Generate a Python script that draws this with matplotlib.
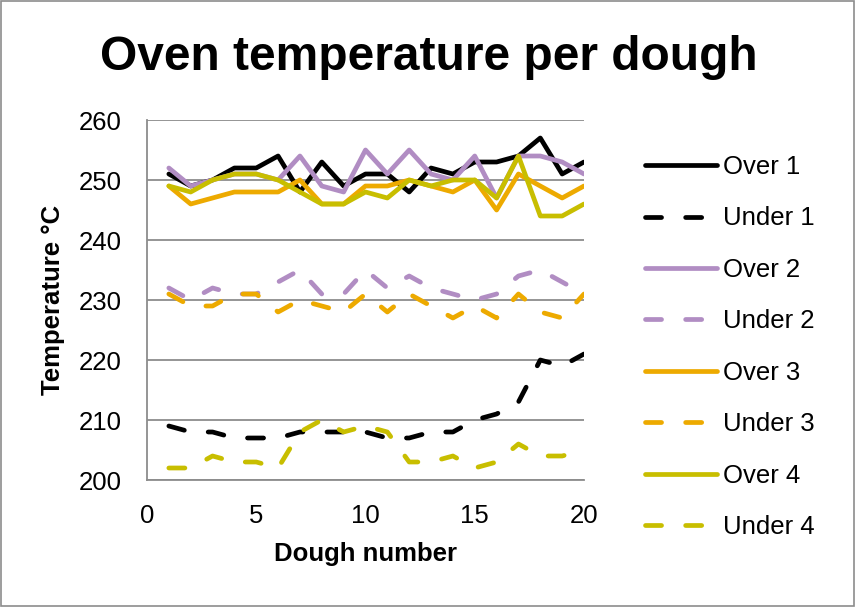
import matplotlib
matplotlib.use("Agg")
import matplotlib.pyplot as plt
from matplotlib.patches import Rectangle

plt.rcParams['font.family'] = ['Liberation Sans', 'DejaVu Sans']

dough = list(range(1, 21))

over_1 = [251, 249, 250, 252, 252, 254, 248, 253, 249, 251, 251, 248, 252, 251, 253, 253, 254, 257, 251, 253]
under_1 = [209, 208, 208, 207, 207, 207, 208, 208, 208, 208, 207, 207, 208, 208, 210, 211, 213, 220, 219, 221]
over_2 = [252, 249, 250, 251, 251, 250, 254, 249, 248, 255, 251, 255, 251, 250, 254, 247, 254, 254, 253, 251]
under_2 = [232, 230, 232, 231, 231, 233, 235, 231, 231, 235, 232, 234, 232, 231, 230, 231, 234, 235, 233, 231]
over_3 = [249, 246, 247, 248, 248, 248, 250, 246, 246, 249, 249, 250, 249, 248, 250, 245, 251, 249, 247, 249]
under_3 = [231, 229, 229, 231, 231, 228, 230, 229, 228, 231, 228, 231, 229, 227, 229, 227, 231, 228, 227, 231]
over_4 = [249, 248, 250, 251, 251, 250, 248, 246, 246, 248, 247, 250, 249, 250, 250, 247, 254, 244, 244, 246]
under_4 = [202, 202, 204, 203, 203, 202, 208, 210, 208, 209, 208, 203, 203, 204, 202, 203, 206, 204, 204, 205]

series_names = ["Over 1", "Under 1", "Over 2", "Under 2", "Over 3", "Under 3", "Over 4", "Under 4"]
series_values = [over_1, under_1, over_2, under_2, over_3, under_3, over_4, under_4]

colors = {"1": "#000000", "2": "#B18DC3", "3": "#EDAA00", "4": "#C8BE00"}

x_ticks = [0, 5, 10, 15, 20]
y_ticks = [200, 210, 220, 230, 240, 250, 260]

fig = plt.figure(figsize=(8.56, 6.07), dpi=100)
ax = fig.add_axes([147 / 856, 127 / 607, 437 / 856, 360 / 607])

lw = 3.4
handles = []
for name, vals in zip(series_names, series_values):
    col = colors[name[-1]]
    if name.startswith("Over"):
        ln, = ax.plot(dough, vals, color=col, lw=lw, solid_capstyle='round',
                      solid_joinstyle='round', label=name, zorder=3)
    else:
        ln, = ax.plot(dough, vals, color=col, lw=lw, dashes=(3.4, 5.1),
                      dash_capstyle='round', dash_joinstyle='round', label=name, zorder=3)
    handles.append(ln)

ax.set_xlim(0, 20)
ax.set_ylim(200, 260)
ax.set_xticks(x_ticks)
ax.set_yticks(y_ticks)
ax.tick_params(axis='y', length=0, labelsize=18.5, pad=18, colors='#000000')
ax.tick_params(axis='x', length=0, labelsize=18.5, pad=17, colors='#000000')
ax.yaxis.grid(True, color='#8c8c8c', lw=1.3)
ax.set_axisbelow(True)
for s in ['top', 'right']:
    ax.spines[s].set_visible(False)
for s in ['left', 'bottom']:
    ax.spines[s].set_color('#8c8c8c')
    ax.spines[s].set_linewidth(1.3)

ax.set_xlabel("Dough number", fontsize=18.5, fontweight='bold', labelpad=10)
ax.set_ylabel("Temperature °C", fontsize=18.5, fontweight='bold', labelpad=10)

fig.text(429 / 856, 1 - 58 / 607, "Oven temperature per dough", ha='center', va='center',
         fontsize=34.5, fontweight='bold')

fig.legend(handles=handles, loc='upper left', bbox_to_anchor=(645 / 856, 1 - 155 / 607),
           frameon=False, fontsize=18.5, handlelength=2.8, handletextpad=0.25,
           labelspacing=1.07, borderpad=0, borderaxespad=0)

fig.patches.append(Rectangle((0.001, 0.001), 0.997, 0.997, transform=fig.transFigure,
                             fill=False, edgecolor='#8c8c8c', lw=1.2))

fig.savefig("out.png", dpi=100)
